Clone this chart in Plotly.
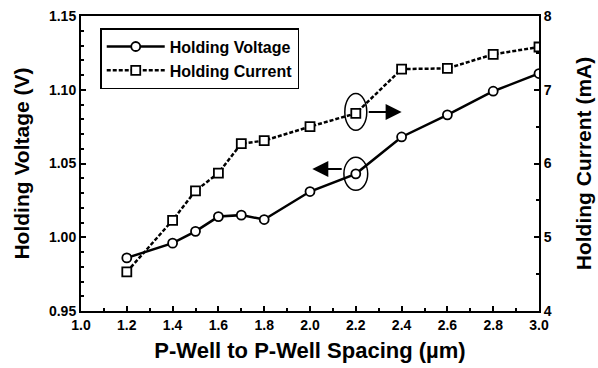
import plotly.graph_objects as go

spacing = [1.2, 1.4, 1.5, 1.6, 1.7, 1.8, 2.0, 2.2, 2.4, 2.6, 2.8, 3.0]
holding_voltage = [0.986, 0.996, 1.004, 1.014, 1.015, 1.012, 1.031, 1.043, 1.068, 1.083, 1.099, 1.111]
holding_current = [4.53, 5.23, 5.63, 5.87, 6.27, 6.31, 6.50, 6.68, 7.28, 7.29, 7.48, 7.58]

x_ticks = [1.0, 1.2, 1.4, 1.6, 1.8, 2.0, 2.2, 2.4, 2.6, 2.8, 3.0]
y_ticks = [0.95, 1.00, 1.05, 1.10, 1.15]
y2_ticks = [4, 5, 6, 7, 8]

FONT = "Liberation Sans"

fig = go.Figure()
fig.add_trace(go.Scatter(
    x=spacing, y=holding_voltage, name="<b>Holding Voltage</b>",
    mode="lines+markers",
    line=dict(color="black", width=2.5),
    marker=dict(symbol="circle", size=9, color="white", line=dict(width=1.8, color="black")),
))
fig.add_trace(go.Scatter(
    x=spacing, y=holding_current, name="<b>Holding Current</b>", yaxis="y2",
    mode="lines+markers",
    line=dict(color="black", width=2.5, dash="4px,2px"),
    marker=dict(symbol="square", size=9, color="white", line=dict(width=1.8, color="black")),
))

axis_common = dict(
    showline=True, linecolor="black", linewidth=2,
    ticks="inside", tickcolor="black", tickwidth=2, ticklen=5,
    showgrid=False, zeroline=False, automargin=False,
    tickfont=dict(family=FONT, size=14, color="black"),
)

fig.update_layout(
    width=598, height=368,
    margin=dict(l=81, r=59, t=16, b=57),
    paper_bgcolor="white", plot_bgcolor="white",
    font=dict(family=FONT, color="black"),
    showlegend=True,
    legend=dict(
        x=0.042, y=0.959, xanchor="left", yanchor="top",
        bordercolor="black", borderwidth=1.5, bgcolor="white",
        font=dict(family=FONT, size=16, color="black"),
        itemwidth=58, tracegroupgap=0,
    ),
    xaxis=dict(
        range=[1.0, 3.0], tickvals=x_ticks,
        ticktext=[f"<b>{v:.1f}</b>" for v in x_ticks],
        minor=dict(dtick=0.1, ticks="inside", ticklen=3, tickcolor="black", tickwidth=1.5),
        mirror=True,
        title=dict(text="<b>P-Well to P-Well Spacing (µm)</b>",
                   font=dict(family=FONT, size=22, color="black"), standoff=11),
        **axis_common,
    ),
    yaxis=dict(
        range=[0.95, 1.15], tickvals=y_ticks,
        ticktext=[f"<b>{v:.2f}</b>" for v in y_ticks],
        minor=dict(dtick=0.01, ticks="inside", ticklen=3, tickcolor="black", tickwidth=1.5),
        title=dict(text="<b>Holding Voltage (V)</b>",
                   font=dict(family=FONT, size=21, color="black"), standoff=14),
        **axis_common,
    ),
    yaxis2=dict(
        range=[4, 8], tickvals=y2_ticks,
        ticktext=[f"<b>{v}</b>" for v in y2_ticks],
        minor=dict(dtick=0.5, ticks="inside", ticklen=3, tickcolor="black", tickwidth=1.5),
        overlaying="y", side="right", anchor="x",
        title=dict(text="<b>Holding Current (mA)</b>",
                   font=dict(family=FONT, size=21, color="black"), standoff=26),
        **axis_common,
    ),
)

# Ellipses marking the 2.2 µm points
fig.add_shape(type="circle", xref="x", yref="y2",
              x0=2.2 - 0.048, x1=2.2 + 0.048, y0=6.70 - 0.25, y1=6.70 + 0.25,
              line=dict(color="black", width=1.5))
fig.add_shape(type="circle", xref="x", yref="y",
              x0=2.2 - 0.052, x1=2.2 + 0.052, y0=1.043 - 0.0112, y1=1.043 + 0.0112,
              line=dict(color="black", width=1.5))

# Arrows pointing to respective axes
fig.add_annotation(x=2.40, y=6.70, ax=2.25, ay=6.70, xref="x", yref="y2",
                   axref="x", ayref="y2", text="", showarrow=True,
                   arrowhead=2, arrowsize=1.6, arrowwidth=2, arrowcolor="black")
fig.add_annotation(x=2.01, y=1.0463, ax=2.145, ay=1.0463, xref="x", yref="y",
                   axref="x", ayref="y", text="", showarrow=True,
                   arrowhead=2, arrowsize=1.6, arrowwidth=2, arrowcolor="black")

fig.write_html("out.html", config={"displayModeBar": False},
               post_script="document.body.style.margin='0';")
